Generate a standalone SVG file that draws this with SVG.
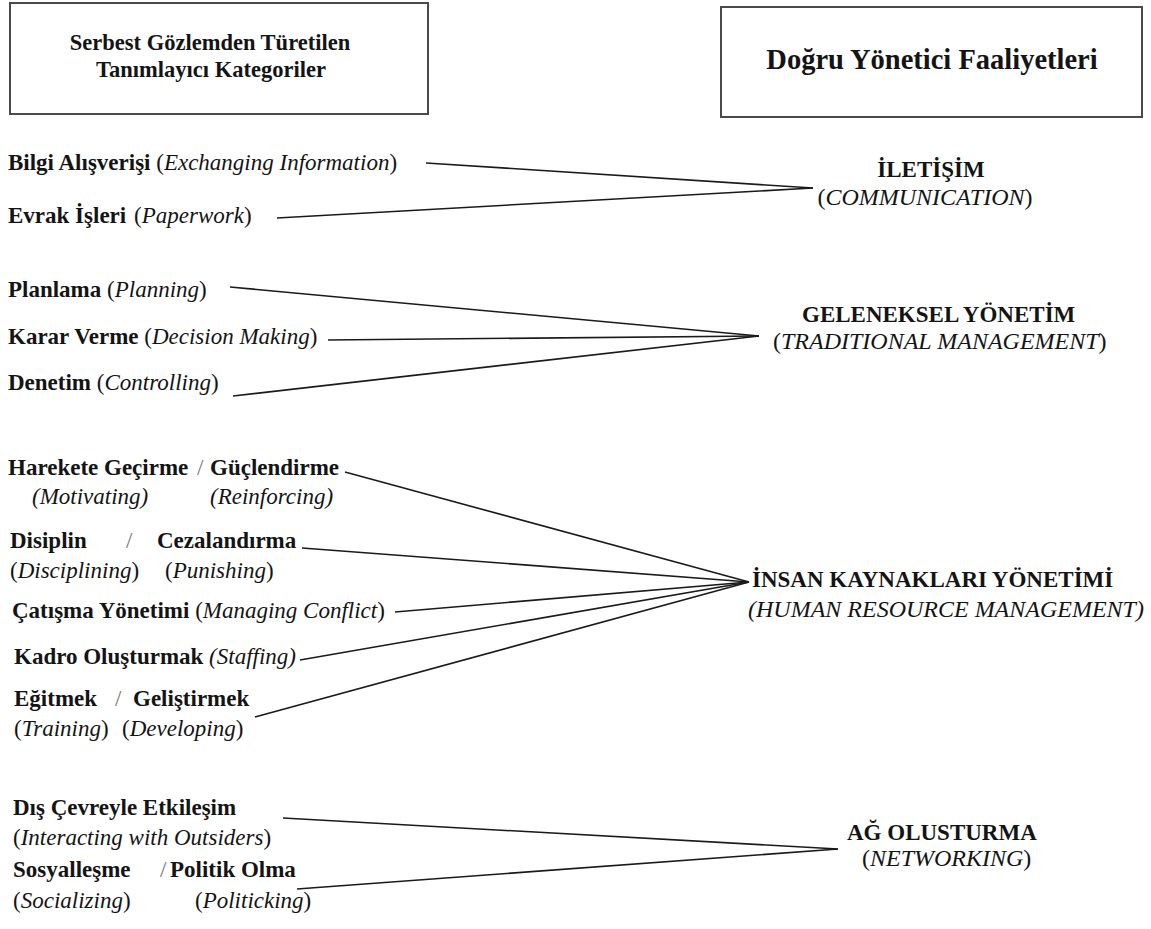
<svg xmlns="http://www.w3.org/2000/svg" width="1151" height="929" viewBox="0 0 1151 929">
  <style>
    text { font-family: "Liberation Serif", "DejaVu Serif", serif; fill: #141414; }
    .b { font-weight: bold; }
    .i { font-style: italic; }
    .item { font-size: 23px; }
    .lbl { font-size: 23px; }
    .lbl2 { font-size: 24px; }
    .hdr { font-size: 22.5px; font-weight: bold; }
    .hdr2 { font-size: 28.5px; font-weight: bold; }
    .box { fill: #ffffff; stroke: #4a4a4a; stroke-width: 2; }
    .sep { fill: #777777; font-weight: normal; }
    .link { stroke: #1a1a1a; stroke-width: 1.6; fill: none; }
  </style>
  <rect width="1151" height="929" fill="#ffffff"/>

  <!-- column headers -->
  <g id="header-left">
    <rect class="box" x="10" y="3" width="418" height="111"/>
    <text class="hdr" x="210" y="50" text-anchor="middle">Serbest Gözlemden Türetilen</text>
    <text class="hdr" x="211" y="77" text-anchor="middle">Tanımlayıcı Kategoriler</text>
  </g>
  <g id="header-right">
    <rect class="box" x="721" y="7" width="421" height="110"/>
    <text class="hdr2" x="932" y="69" text-anchor="middle">Doğru Yönetici Faaliyetleri</text>
  </g>

  <!-- connectors: each item joins its activity group at a single point -->
  <g id="connectors">
    <line class="link" x1="426" y1="163" x2="813" y2="188"/>
    <line class="link" x1="277" y1="218" x2="813" y2="188"/>

    <line class="link" x1="230" y1="287" x2="759" y2="336"/>
    <line class="link" x1="328" y1="340" x2="759" y2="336"/>
    <line class="link" x1="233" y1="396" x2="759" y2="336"/>

    <line class="link" x1="345" y1="472" x2="749" y2="582"/>
    <line class="link" x1="302" y1="548" x2="749" y2="582"/>
    <line class="link" x1="395" y1="612" x2="749" y2="582"/>
    <line class="link" x1="300" y1="660" x2="749" y2="582"/>
    <line class="link" x1="255" y1="717" x2="749" y2="582"/>

    <line class="link" x1="283" y1="818" x2="838" y2="849"/>
    <line class="link" x1="297" y1="889" x2="838" y2="849"/>
  </g>

  <!-- communication -->
  <g id="item-bilgi">
    <text class="item" x="8" y="170"><tspan class="b">Bilgi Alışverişi</tspan> (<tspan class="i">Exchanging Information</tspan>)</text>
  </g>
  <g id="item-evrak">
    <text class="item" x="8" y="223"><tspan class="b">Evrak İşleri</tspan><tspan x="134">(</tspan><tspan class="i">Paperwork</tspan>)</text>
  </g>
  <g id="cat-iletisim">
    <text class="lbl b" x="931" y="177" text-anchor="middle">İLETİŞİM</text>
    <text class="lbl2" x="925" y="205" text-anchor="middle">(<tspan class="i">COMMUNICATION</tspan>)</text>
  </g>

  <!-- traditional management -->
  <g id="item-planlama">
    <text class="item" x="8" y="297"><tspan class="b">Planlama</tspan> (<tspan class="i">Planning</tspan>)</text>
  </g>
  <g id="item-karar">
    <text class="item" x="8" y="344"><tspan class="b">Karar Verme</tspan> (<tspan class="i">Decision Making</tspan>)</text>
  </g>
  <g id="item-denetim">
    <text class="item" x="8" y="390"><tspan class="b">Denetim</tspan> (<tspan class="i">Controlling</tspan>)</text>
  </g>
  <g id="cat-geleneksel">
    <text class="lbl b" x="802" y="322">GELENEKSEL YÖNETİM</text>
    <text class="lbl2" x="773" y="349">(<tspan class="i">TRADITIONAL MANAGEMENT</tspan>)</text>
  </g>

  <!-- human resource management -->
  <g id="item-harekete">
    <text class="item" x="8" y="475"><tspan class="b">Harekete Geçirme</tspan><tspan class="sep" x="197">/</tspan><tspan class="b" x="210">Güçlendirme</tspan></text>
    <text class="item i" x="32" y="504">(Motivating)</text>
    <text class="item i" x="210" y="504">(Reinforcing)</text>
  </g>
  <g id="item-disiplin">
    <text class="item" x="10" y="548"><tspan class="b">Disiplin</tspan><tspan class="sep" x="126">/</tspan><tspan class="b" x="157">Cezalandırma</tspan></text>
    <text class="item" x="10" y="578">(<tspan class="i">Disciplining</tspan>)</text>
    <text class="item" x="165" y="578">(<tspan class="i">Punishing</tspan>)</text>
  </g>
  <g id="item-catisma">
    <text class="item" x="12" y="618"><tspan class="b">Çatışma Yönetimi</tspan> (<tspan class="i">Managing Conflict</tspan>)</text>
  </g>
  <g id="item-kadro">
    <text class="item" x="14" y="664"><tspan class="b">Kadro Oluşturmak</tspan> <tspan class="i">(Staffing)</tspan></text>
  </g>
  <g id="item-egitmek">
    <text class="item" x="14" y="706"><tspan class="b">Eğitmek</tspan><tspan class="sep" x="115">/</tspan><tspan class="b" x="133">Geliştirmek</tspan></text>
    <text class="item" x="14" y="736">(<tspan class="i">Training</tspan>)</text>
    <text class="item" x="122" y="736">(<tspan class="i">Developing</tspan>)</text>
  </g>
  <g id="cat-insan">
    <text class="lbl b" x="752" y="587">İNSAN KAYNAKLARI YÖNETİMİ</text>
    <text class="lbl2 i" x="748" y="617">(HUMAN RESOURCE MANAGEMENT)</text>
  </g>

  <!-- networking -->
  <g id="item-dis">
    <text class="item b" x="13" y="815">Dış Çevreyle Etkileşim</text>
    <text class="item" x="13" y="845">(<tspan class="i">Interacting with Outsiders</tspan>)</text>
  </g>
  <g id="item-sosyal">
    <text class="item" x="13" y="877"><tspan class="b">Sosyalleşme</tspan><tspan class="sep" x="160">/</tspan><tspan class="b" x="170">Politik Olma</tspan></text>
    <text class="item" x="13" y="908">(<tspan class="i">Socializing</tspan>)</text>
    <text class="item" x="195" y="908">(<tspan class="i">Politicking</tspan>)</text>
  </g>
  <g id="cat-ag">
    <text class="lbl b" x="847" y="840">AĞ OLUSTURMA</text>
    <text class="lbl2" x="862" y="866">(<tspan class="i">NETWORKING</tspan>)</text>
  </g>
</svg>
